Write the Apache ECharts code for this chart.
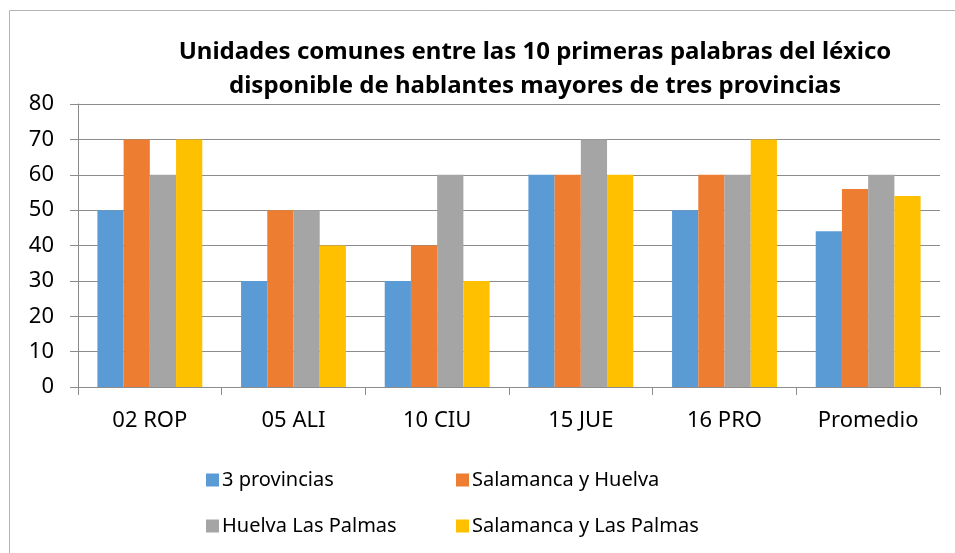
<!DOCTYPE html>
<html>
<head>
<meta charset="utf-8">
<script src="https://cdn.jsdelivr.net/npm/echarts@6/dist/echarts.min.js"></script>
<style>
    html, body {margin: 0; padding: 0; background: #fff;}
    #charts {width: 955px; height: 553px;}
</style>
</head>
<body>
<div id="charts"></div>
<script>
var categories = ['02 ROP', '05 ALI', '10 CIU', '15 JUE', '16 PRO', 'Promedio'];
var seriesNames = ['3 provincias', 'Salamanca y Huelva', 'Huelva Las Palmas', 'Salamanca y Las Palmas'];
var tresProvincias = [50, 30, 30, 60, 50, 44];
var salamancaHuelva = [70, 50, 40, 60, 60, 56];
var huelvaLasPalmas = [60, 50, 60, 70, 60, 60];
var salamancaLasPalmas = [70, 40, 30, 60, 70, 54];
var colors = ['#5B9BD5', '#ED7D31', '#A5A5A5', '#FFC000'];

var font = 'Noto Sans';
var values = [tresProvincias, salamancaHuelva, huelvaLasPalmas, salamancaLasPalmas];

// one legend per item so each sits where the original puts it
var legendPos = [
    {left: 201, top: 465},
    {left: 451, top: 465},
    {left: 201, top: 511},
    {left: 451, top: 511}
];

var chart = echarts.init(document.getElementById('charts'));
var option = {
    animation: false,
    color: colors,
    title: {
        text: 'Unidades comunes entre las 10 primeras palabras del léxico\ndisponible de hablantes mayores de tres provincias',
        left: 530,
        top: 30,
        textAlign: 'center',
        textStyle: {
            fontFamily: font,
            fontWeight: 'bold',
            fontSize: 24,
            lineHeight: 34,
            color: '#000'
        }
    },
    graphic: [{
        type: 'rect',
        shape: {x: 9.5, y: 10.5, width: 1000, height: 1000},
        style: {fill: 'none', stroke: '#b4b4b4', lineWidth: 1}
    }],
    legend: seriesNames.map(function (name, i) {
        return {
            data: [name],
            left: legendPos[i].left,
            top: legendPos[i].top,
            itemWidth: 13,
            itemHeight: 13,
            icon: 'rect',
            textStyle: {fontFamily: font, fontSize: 20, color: '#000', padding: [0, 0, 0, -2]}
        };
    }),
    grid: {
        left: 78,
        right: 15,
        top: 104,
        bottom: 166,
        containLabel: false
    },
    xAxis: {
        type: 'category',
        data: categories,
        axisLine: {lineStyle: {color: '#8c8c8c'}},
        axisTick: {show: true, length: 8, lineStyle: {color: '#8c8c8c'}},
        axisLabel: {fontFamily: font, fontSize: 22, color: '#000', margin: 23}
    },
    yAxis: {
        type: 'value',
        min: 0,
        max: 80,
        interval: 10,
        axisLine: {show: true, lineStyle: {color: '#8c8c8c'}},
        axisTick: {show: true, length: 8, lineStyle: {color: '#8c8c8c'}},
        axisLabel: {fontFamily: font, fontSize: 22, color: '#000', margin: 24},
        splitLine: {lineStyle: {color: '#8c8c8c'}}
    },
    series: seriesNames.map(function (name, i) {
        return {
            name: name,
            type: 'bar',
            data: values[i],
            barGap: '0%',
            barCategoryGap: '27%'
        };
    })
};
chart.setOption(option);
</script>
</body>
</html>
